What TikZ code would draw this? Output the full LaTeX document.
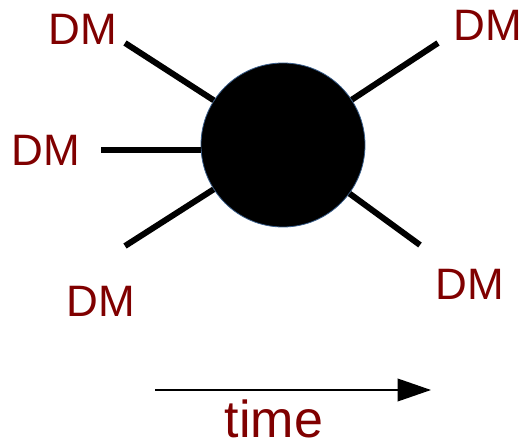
\documentclass[tikz,border=0pt]{standalone}
\usepackage{fontspec}
\setmainfont{Liberation Sans}
\usetikzlibrary{arrows.meta}
\definecolor{dmred}{RGB}{128,0,0}
\definecolor{rimblue}{RGB}{56,93,138}
\tikzset{
  leg/.style={black,line width=4.5pt},
  dmlabel/.style={text=dmred,font=\fontsize{33}{33}\selectfont,inner sep=0pt},
  blobstyle/.style={circle,fill=black,draw=rimblue,line width=0.6pt,
                    minimum size=123pt,inner sep=0pt},
  timeflow/.style={-{Triangle[length=25pt,width=17pt]},line width=1.1pt},
}
\begin{document}
\begin{tikzpicture}[x=0.75pt,y=-0.75pt]
  \path[use as bounding box] (0,0) rectangle (526,442);
  \node[blobstyle] (blob) at (283,145) {};

  % free ends of the legs
  \coordinate (ulend) at (125,43);
  \coordinate (lend) at (101,150);
  \coordinate (llend) at (125,246);
  \coordinate (urend) at (438,43);
  \coordinate (lrend) at (420,245);

  \node[dmlabel] (dmul) at (83,29) {DM};
  \node[dmlabel] (dml) at (46,150) {DM};
  \node[dmlabel] (dmll) at (101,301) {DM};
  \node[dmlabel] (dmur) at (488,25) {DM};
  \node[dmlabel] (dmlr) at (470,284) {DM};

  \draw[leg] (ulend) -- (blob);
  \draw[leg] (lend) -- (blob.west |- lend);
  \draw[leg] (llend) -- (blob);
  \draw[leg] (urend) -- (blob);
  \draw[leg] (lrend) -- (blob);

  \coordinate (tstart) at (155,390);
  \coordinate (tend) at (431,390);
  \draw[timeflow] (tstart) -- (tend);
  \node[text=dmred,font=\fontsize{39}{39}\selectfont,inner sep=0pt] (timelab) at (274,419) {time};
\end{tikzpicture}
\end{document}
